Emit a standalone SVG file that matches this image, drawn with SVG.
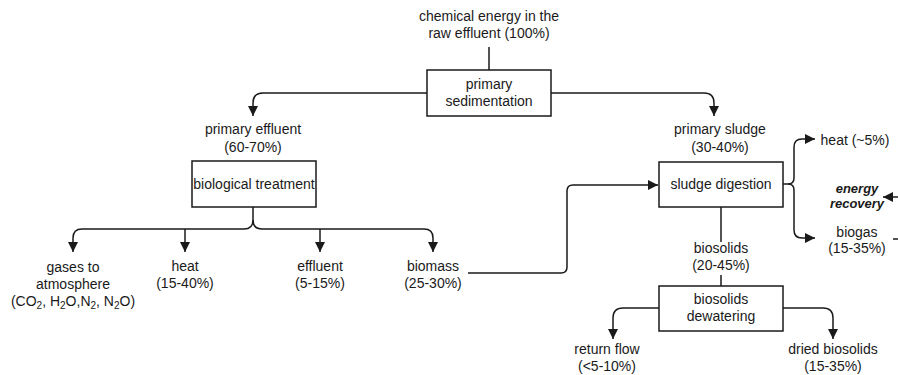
<svg xmlns="http://www.w3.org/2000/svg" width="898" height="375" viewBox="0 0 898 375">
  <style>
    text { font-family: "Liberation Sans", Arial, sans-serif; font-size: 14px; fill: #1a1a1a; text-anchor: middle; }
    .box { fill: #fff; stroke: #1a1a1a; stroke-width: 1.5; }
    .conn { fill: none; stroke: #1a1a1a; stroke-width: 1.5; }
    .em { font-style: italic; font-weight: bold; font-size: 13px; }
  </style>
  <defs>
    <marker id="arrow" markerUnits="userSpaceOnUse" markerWidth="12" markerHeight="12" viewBox="0 0 12 12" refX="11" refY="6" orient="auto">
      <path d="M1 1 L11 6 L1 11 Z" fill="#1a1a1a"/>
    </marker>
  </defs>
  <rect width="898" height="375" fill="#fff"/>

  <g id="connectors">
    <path class="conn" d="M489 47 V70"/>
    <path class="conn" d="M427 93 H263 Q253 93 253 103 V116" marker-end="url(#arrow)"/>
    <path class="conn" d="M551 93 H704 Q714 93 714 103 V116" marker-end="url(#arrow)"/>
    <path class="conn" d="M253 207 V220 Q253 229 244 229 H82 Q73 229 73 238 V252" marker-end="url(#arrow)"/>
    <path class="conn" d="M253 220 Q253 229 262 229 H424 Q433 229 433 238 V252" marker-end="url(#arrow)"/>
    <path class="conn" d="M185 229 V252" marker-end="url(#arrow)"/>
    <path class="conn" d="M320 229 V252" marker-end="url(#arrow)"/>
    <path class="conn" d="M468 273 H561 Q567 273 567 267 V191 Q567 185 573 185 H658" marker-end="url(#arrow)"/>
    <path class="conn" d="M783 184 H788 Q794 184 794 178 V147 Q794 139 802 139 H815" marker-end="url(#arrow)"/>
    <path class="conn" d="M788 184 Q794 184 794 190 V230 Q794 238 802 238 H815" marker-end="url(#arrow)"/>
    <path class="conn" d="M898 197 H883" marker-end="url(#arrow)"/>
    <path class="conn" d="M893 239 H898"/>
    <path class="conn" d="M721 207 V242"/>
    <path class="conn" d="M721 275 V286"/>
    <path class="conn" d="M659 308 H623 Q613 308 613 318 V339" marker-end="url(#arrow)"/>
    <path class="conn" d="M783 308 H823 Q833 308 833 318 V339" marker-end="url(#arrow)"/>
  </g>

  <g id="raw-effluent">
    <text x="489" y="21">chemical energy in the</text>
    <text x="489" y="38">raw effluent (100%)</text>
  </g>

  <g id="primary-sedimentation">
    <rect class="box" x="427" y="70" width="124" height="46"/>
    <text x="489" y="89">primary</text>
    <text x="489" y="106">sedimentation</text>
  </g>

  <g id="primary-effluent">
    <text x="253" y="134">primary effluent</text>
    <text x="253" y="152">(60-70%)</text>
  </g>

  <g id="biological-treatment">
    <rect class="box" x="192" y="161" width="124" height="46"/>
    <text x="254" y="189">biological treatment</text>
  </g>

  <g id="gases">
    <text x="73" y="272">gases to</text>
    <text x="73" y="289">atmosphere</text>
    <text x="73" y="306">(CO<tspan font-size="10" dy="3">2</tspan><tspan dy="-3">, H</tspan><tspan font-size="10" dy="3">2</tspan><tspan dy="-3">O,N</tspan><tspan font-size="10" dy="3">2</tspan><tspan dy="-3">, N</tspan><tspan font-size="10" dy="3">2</tspan><tspan dy="-3">O)</tspan></text>
  </g>

  <g id="heat-bio">
    <text x="185" y="271">heat</text>
    <text x="185" y="288">(15-40%)</text>
  </g>

  <g id="effluent">
    <text x="320" y="271">effluent</text>
    <text x="320" y="288">(5-15%)</text>
  </g>

  <g id="biomass">
    <text x="433" y="271">biomass</text>
    <text x="433" y="288">(25-30%)</text>
  </g>

  <g id="primary-sludge">
    <text x="720" y="134">primary sludge</text>
    <text x="720" y="152">(30-40%)</text>
  </g>

  <g id="sludge-digestion">
    <rect class="box" x="659" y="162" width="124" height="45"/>
    <text x="721" y="189">sludge digestion</text>
  </g>

  <g id="heat-digestion">
    <text x="855" y="145">heat (~5%)</text>
  </g>

  <g id="energy-recovery">
    <text class="em" x="857" y="193">energy</text>
    <text class="em" x="857" y="208">recovery</text>
  </g>

  <g id="biogas">
    <text x="857" y="237">biogas</text>
    <text x="857" y="253">(15-35%)</text>
  </g>

  <g id="biosolids">
    <text x="721" y="253">biosolids</text>
    <text x="721" y="270">(20-45%)</text>
  </g>

  <g id="biosolids-dewatering">
    <rect class="box" x="659" y="286" width="124" height="45"/>
    <text x="721" y="304">biosolids</text>
    <text x="721" y="321">dewatering</text>
  </g>

  <g id="return-flow">
    <text x="607" y="354">return flow</text>
    <text x="607" y="371">(&lt;5-10%)</text>
  </g>

  <g id="dried-biosolids">
    <text x="833" y="354">dried biosolids</text>
    <text x="833" y="371">(15-35%)</text>
  </g>
</svg>
